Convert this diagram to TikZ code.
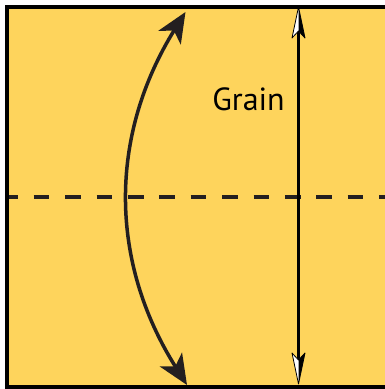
\documentclass[tikz,border=0pt]{standalone}
\usepackage{fontspec}
\setmainfont{PT Sans}
\usetikzlibrary{arrows.meta,calc}
\definecolor{paper}{RGB}{254,212,92}
\definecolor{ink}{RGB}{35,31,32}
\begin{document}
\begin{tikzpicture}[
    x=1pt, y=-1pt,
    border/.style={draw=black, line width=4pt, fill=paper},
    fold/.style={draw=ink, line width=3.3pt, dash pattern=on 15.7pt off 15.7pt, dash phase=6.2pt},
    flipline/.style={draw=ink, line width=3.5pt,
      {Stealth[length=30pt, width=26pt, inset=8pt]}-{Stealth[length=30pt, width=26pt, inset=8pt]}},
    grainline/.style={draw=black, line width=3pt},
]
    \useasboundingbox (0,0) rectangle (385,389);

    % Sheet of paper (right edge runs off the picture)
    \path[border] (6.5,6.5) rectangle (400,387);

    % Fold line across the middle
    \coordinate (foldL) at (8.5,197);
    \coordinate (foldR) at (390,197);
    \draw[fold] (foldL) -- (foldR);

    % Curved flip arrow
    \coordinate (ctop) at (185.5,12);
    \coordinate (cbot) at (187,385);
    \draw[flipline] (cbot) to[bend left=32] (ctop);

    % Grain arrow with half-white heads
    \coordinate (gtop) at (298.5,7);
    \coordinate (gbot) at (298.5,384);
    \draw[grainline] ($(gtop)+(0,25)$) -- ($(gbot)+(0,-25)$);
    \filldraw[fill=white, draw=black, line width=0.8pt, line join=round]
      (gtop) -- ($(gtop)+(-6.5,31)$) -- ($(gtop)+(0,24)$) -- ($(gtop)+(6.5,31)$) -- cycle;
    \fill[black] (gtop) -- ($(gtop)+(0,24)$) -- ($(gtop)+(6.5,31)$) -- cycle;
    \filldraw[fill=white, draw=black, line width=0.8pt, line join=round]
      (gbot) -- ($(gbot)+(-6.5,-31)$) -- ($(gbot)+(0,-24)$) -- ($(gbot)+(6.5,-31)$) -- cycle;
    \fill[black] (gbot) -- ($(gbot)+(0,-24)$) -- ($(gbot)+(6.5,-31)$) -- cycle;

    % Label
    \node[font=\fontsize{32}{36}\selectfont, inner sep=0pt] (grain) at (248.5,99) {Grain};
\end{tikzpicture}
\end{document}
